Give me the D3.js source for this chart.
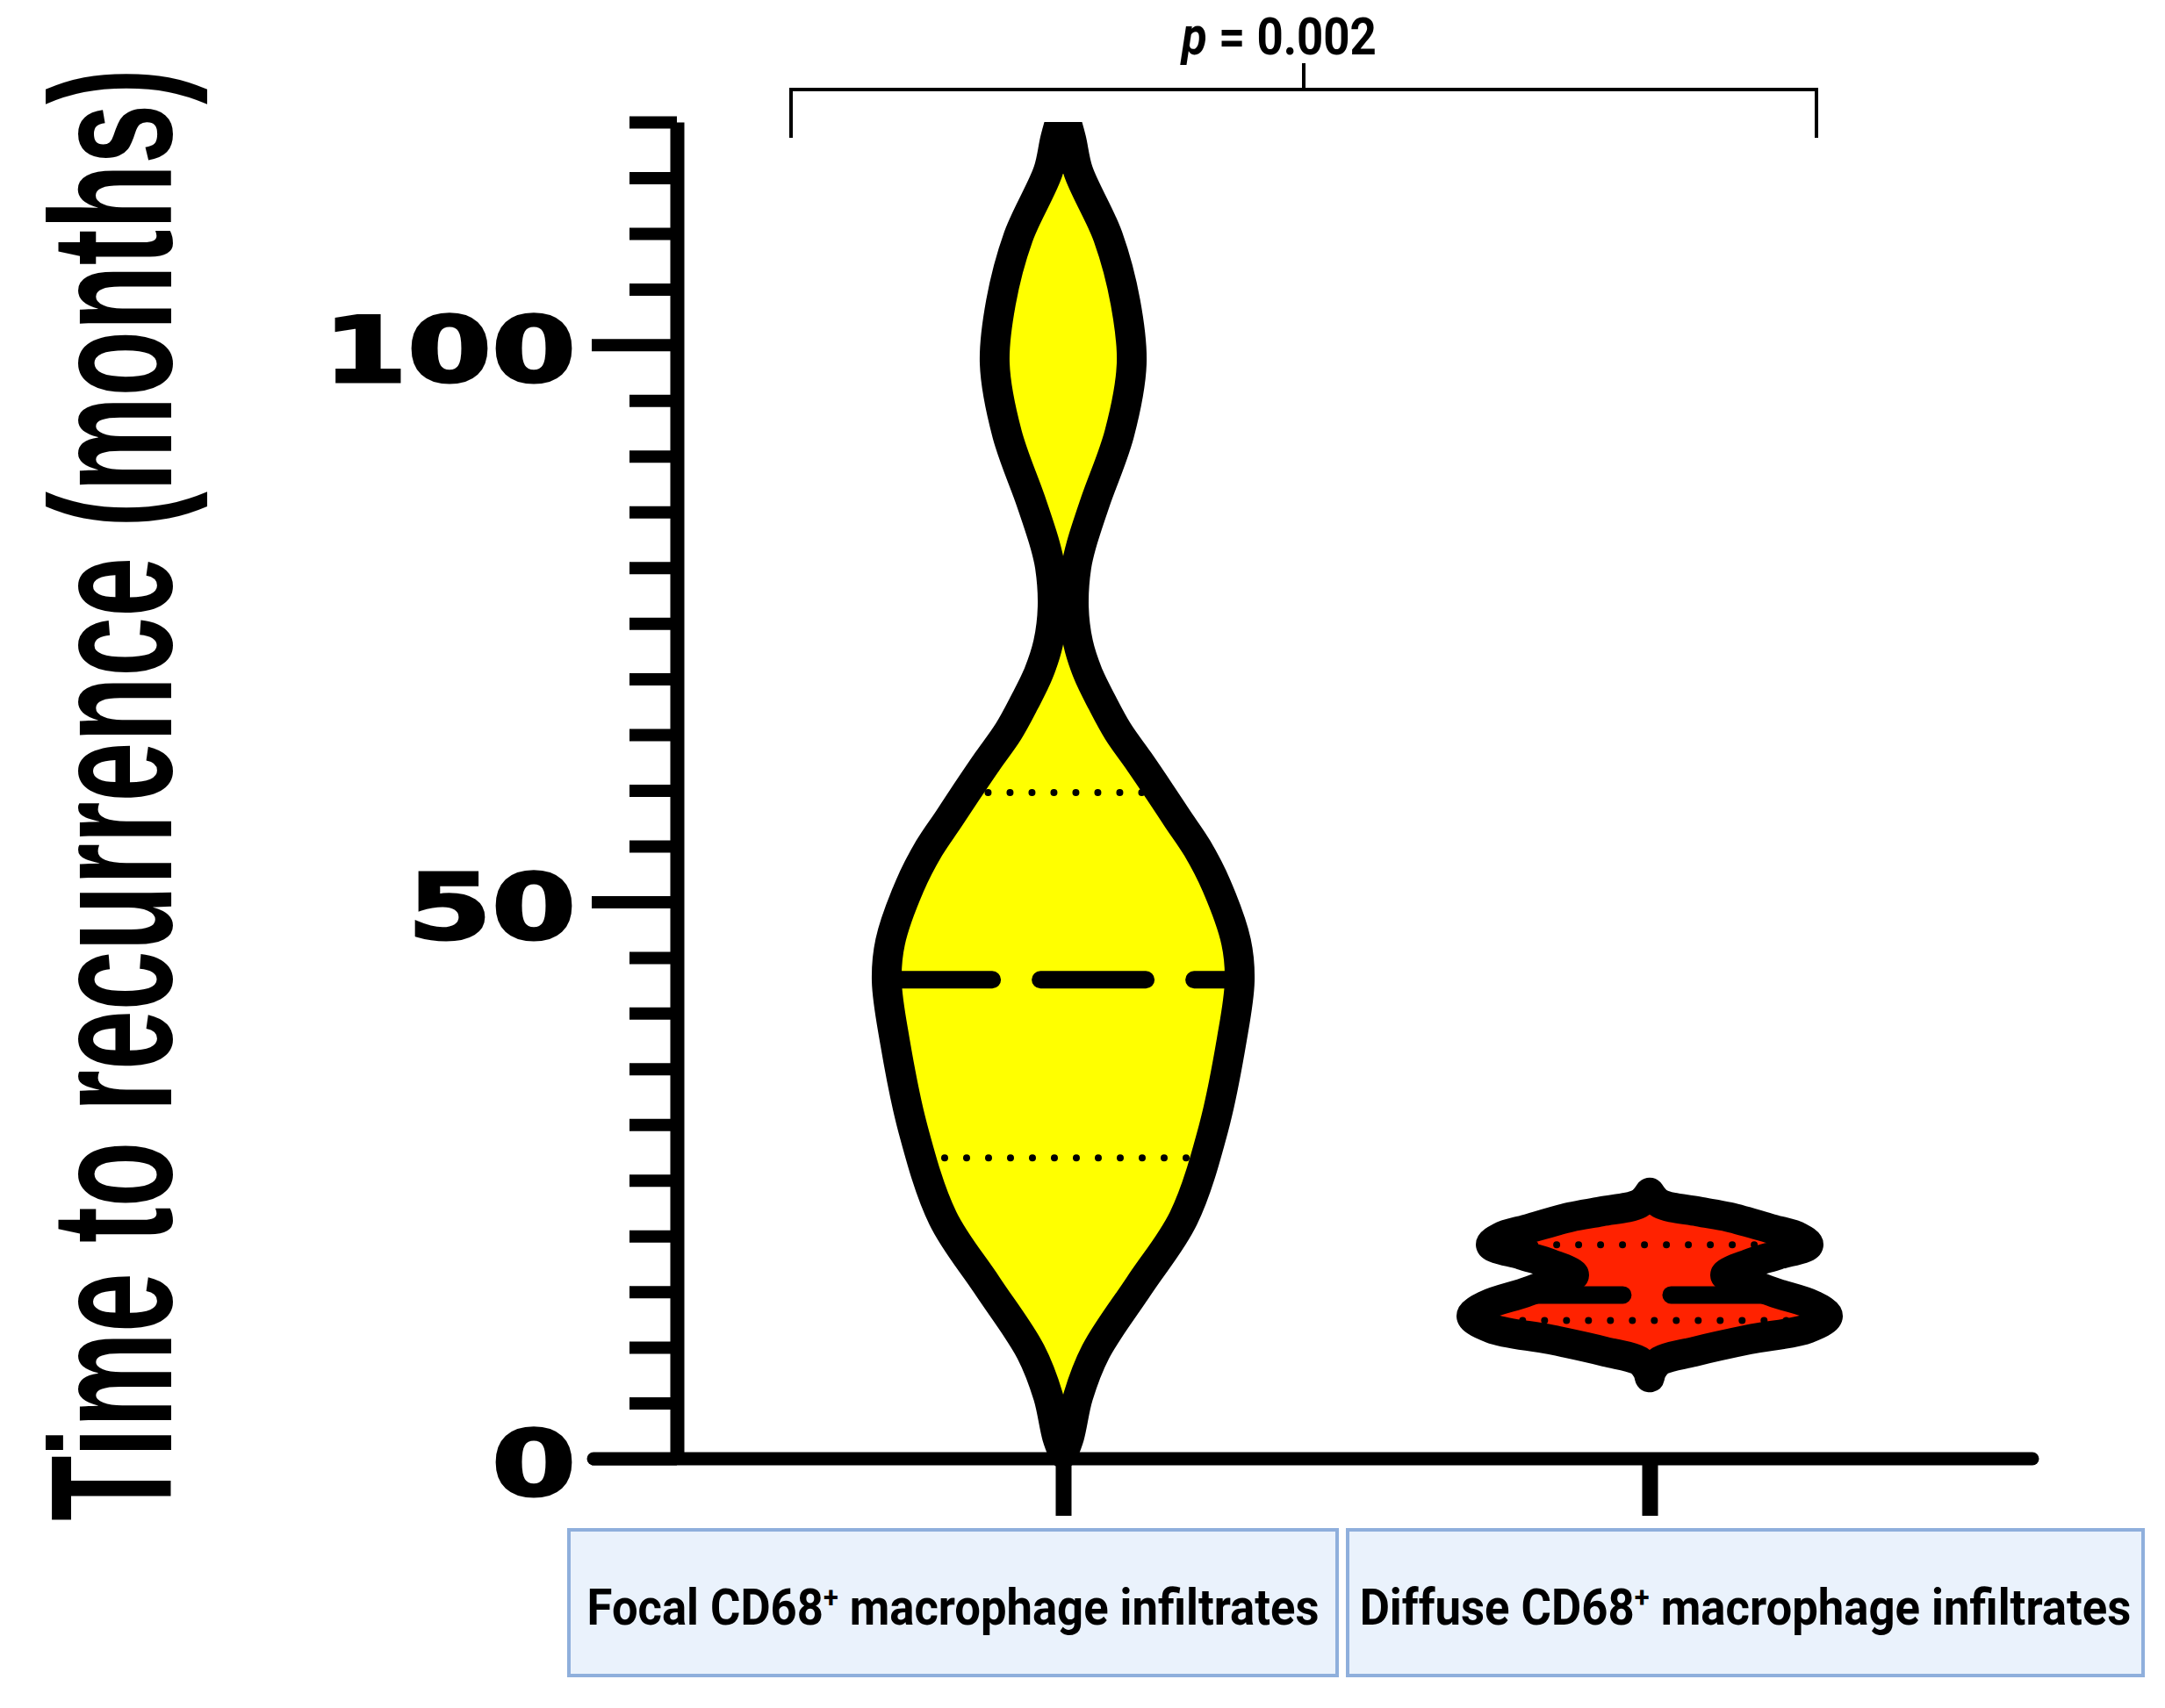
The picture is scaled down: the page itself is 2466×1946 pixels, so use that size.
<!DOCTYPE html>
<html>
<head>
<meta charset="utf-8">
<script src="https://cdn.jsdelivr.net/npm/d3@7"></script>
<style>
  body { margin: 0; background: #fff; }
  svg { display: block; }
</style>
</head>
<body>
<div id="chart"></div>
<script>
// groups and their labels
var groups = ["Focal", "Diffuse"];
var labelStart = ["Focal CD68", "Diffuse CD68"];
var labelEnd = [" macrophage infiltrates", " macrophage infiltrates"];

// violin outlines: [months, relative density]
var focalDensity = [
    [0.5, 0], [2, 3.5], [5.6, 8.5], [9.6, 18.4], [15.6, 43.3], [21.6, 68.2],
    [29.6, 85.1], [37.6, 95.5], [42.9, 100], [46.4, 98], [51.4, 87],
    [54.8, 76], [57.4, 65], [59.8, 55], [62.6, 43], [65.3, 31], [67.9, 22],
    [70.5, 14], [73.2, 8.5], [76.5, 6], [80.1, 7.5], [82.1, 10.4], [86, 18.4],
    [92, 31.8], [98.3, 38.8], [103.8, 35.3], [109.7, 25.4], [115.6, 8.5],
    [118.5, 4.5], [121, 0]
];
var diffuseDensity = [
    [7.3, 0], [8.0, 1.5], [8.8, 6], [9.6, 24.9], [10.7, 56.2], [11.7, 89.6],
    [12.8, 101], [13.8, 92.5], [14.9, 71], [15.9, 54], [16.5, 42.8],
    [17.5, 56.2], [18.3, 72.6], [19.2, 90], [19.9, 84.6], [20.6, 69.7],
    [21.7, 44.8], [22.2, 27.4], [22.9, 6], [23.9, 0]
];

// Q1, median, Q3
var focalQuartiles = [27, 43, 59.8];
var diffuseQuartiles = [12.4, 14.7, 19.2];

var yMajorTicks = [0, 50, 100];
var yMinorTicks = [5, 10, 15, 20, 25, 30, 35, 40, 45, 55, 60, 65, 70, 75, 80, 85, 90, 95, 105, 110, 115, 120];
var pValue = "0.002";

var colors = ["#ffff00", "#ff2200"];

var W = 2466, H = 1946;

var svg = d3.select("#chart")
    .append("svg")
    .attr("width", W)
    .attr("height", H);

svg.append("rect")
    .attr("width", W)
    .attr("height", H)
    .attr("fill", "#fff");

var axisX = 771;      // y axis position
var y = d3.scaleLinear().domain([0, 120]).range([1662, 139]);
var x = d3.scalePoint().domain(groups).range([1211, 1879]);
var w = d3.scaleLinear().domain([0, 100]).range([0, 201]);

svg.append("clipPath")
    .attr("id", "plotclip")
    .append("rect")
    .attr("x", 0)
    .attr("y", y(120))
    .attr("width", W)
    .attr("height", H);

function densityAt(arr, v) {
    for (var i = 1; i < arr.length; i++) {
        if (arr[i][0] >= v) {
            var t = (v - arr[i - 1][0]) / (arr[i][0] - arr[i - 1][0]);
            return arr[i - 1][1] + t * (arr[i][1] - arr[i - 1][1]);
        }
    }
    return 0;
}

// ---- axes ----
var yAxisMinor = d3.axisLeft(y)
    .tickValues(yMinorTicks)
    .tickSize(54)
    .tickSizeOuter(0)
    .tickFormat("");

var yAxisMajor = d3.axisLeft(y)
    .tickValues(yMajorTicks)
    .tickSize(97)
    .tickSizeOuter(0)
    .tickPadding(18);

var gMinor = svg.append("g")
    .attr("transform", "translate(" + axisX + ",0)")
    .call(yAxisMinor);
gMinor.select(".domain").remove();
gMinor.selectAll(".tick line").attr("stroke", "#000").attr("stroke-width", 14);

var gMajor = svg.append("g")
    .attr("transform", "translate(" + axisX + ",0)")
    .call(yAxisMajor);
gMajor.select(".domain").attr("stroke", "#000").attr("stroke-width", 16);
gMajor.selectAll(".tick line").attr("stroke", "#000").attr("stroke-width", 14);
gMajor.selectAll(".tick text")
    .attr("fill", "#000")
    .attr("stroke", "#000")
    .attr("stroke-width", 3)
    .attr("font-family", "'DejaVu Sans', sans-serif")
    .attr("font-weight", "bold")
    .attr("font-size", 104)
    .attr("dy", "0.40em")
    .attr("lengthAdjust", "spacingAndGlyphs")
    .attr("textLength", function(d) { return String(d).length * 96; });

// x axis line
svg.append("line")
    .attr("x1", axisX - 95)
    .attr("x2", x(groups[1]) + 436)
    .attr("y1", y(0))
    .attr("y2", y(0))
    .attr("stroke", "#000")
    .attr("stroke-width", 15)
    .attr("stroke-linecap", "round");

var xAxis = d3.axisBottom(x)
    .tickSize(65)
    .tickSizeOuter(0)
    .tickFormat("");

var gx = svg.append("g")
    .attr("transform", "translate(0," + y(0) + ")")
    .call(xAxis);
gx.select(".domain").remove();
gx.selectAll(".tick line").attr("stroke", "#000").attr("stroke-width", 18);

// ---- violins ----
var violins = [
    {name: groups[0], density: focalDensity, q: focalQuartiles, color: colors[0]},
    {name: groups[1], density: diffuseDensity, q: diffuseQuartiles, color: colors[1]}
];

violins.forEach(function(v) {
    var cx = x(v.name);
    var area = d3.area()
        .curve(d3.curveCatmullRom.alpha(0.5))
        .y(function(d) { return y(d[0]); })
        .x0(function(d) { return cx - w(d[1]); })
        .x1(function(d) { return cx + w(d[1]); });

    var g = svg.append("g").attr("clip-path", "url(#plotclip)");

    g.append("path")
        .datum(v.density)
        .attr("d", area)
        .attr("fill", v.color);

    // quartiles, dotted
    [v.q[0], v.q[2]].forEach(function(q) {
        var hw = w(densityAt(v.density, q));
        g.append("line")
            .attr("x1", cx - hw)
            .attr("x2", cx + hw)
            .attr("y1", y(q))
            .attr("y2", y(q))
            .attr("stroke", "#000")
            .attr("stroke-width", 8)
            .attr("stroke-linecap", "round")
            .attr("stroke-dasharray", "0,25");
    });

    // median, dashed
    var hm = w(densityAt(v.density, v.q[1]));
    g.append("line")
        .attr("x1", cx - hm)
        .attr("x2", cx + hm)
        .attr("y1", y(v.q[1]))
        .attr("y2", y(v.q[1]))
        .attr("stroke", "#000")
        .attr("stroke-width", 20)
        .attr("stroke-linecap", "round")
        .attr("stroke-dasharray", "120,55");

    g.append("path")
        .datum(v.density)
        .attr("d", area)
        .attr("fill", "none")
        .attr("stroke", "#000")
        .attr("stroke-width", 34)
        .attr("stroke-linejoin", "round");
});

// ---- y axis title ----
var title = svg.append("g")
    .append("text")
    .attr("font-family", "'Liberation Sans', Arial, sans-serif")
    .attr("font-weight", "bold")
    .attr("font-size", 197)
    .attr("fill", "#000")
    .text("Time to recurrence (months)");
var ts = 1655 / title.node().getComputedTextLength();
title.attr("transform", "translate(195,1733) rotate(-90) scale(" + ts + ",1)");

// ---- significance bracket ----
var bL = x(groups[0]) - 310,
    bR = x(groups[1]) + 190,
    bMid = (bL + bR) / 2;

svg.append("path")
    .attr("d", "M" + bL + ",157V102H" + bR + "V157M" + bMid + ",102V72")
    .attr("fill", "none")
    .attr("stroke", "#000")
    .attr("stroke-width", 4);

var ptext = svg.append("text")
    .attr("font-family", "Roboto, sans-serif")
    .attr("font-weight", "bold")
    .attr("font-size", 60)
    .attr("fill", "#000");
ptext.append("tspan").attr("font-style", "italic").text("p");
ptext.append("tspan").text(" = " + pValue);
var ps = 222 / ptext.node().getComputedTextLength();
ptext.attr("transform", "translate(1346,62) scale(" + ps + ",1)");

// ---- category label boxes ----
var boxes = [
    {x0: 648, x1: 1523},
    {x0: 1535, x1: 2441}
];
var textWidths = [834, 879];

boxes.forEach(function(b, i) {
    svg.append("rect")
        .attr("x", b.x0)
        .attr("y", 1743)
        .attr("width", b.x1 - b.x0)
        .attr("height", 166)
        .attr("fill", "#eaf2fc")
        .attr("stroke", "#8fafdc")
        .attr("stroke-width", 4);

    var t = svg.append("text")
        .attr("font-family", "Roboto, sans-serif")
        .attr("font-weight", "bold")
        .attr("font-size", 58)
        .attr("fill", "#000")
        .attr("text-anchor", "middle");
    t.append("tspan").text(labelStart[i]);
    t.append("tspan").attr("font-size", 34).attr("dy", -20).text("+");
    t.append("tspan").attr("dy", 20).text(labelEnd[i]);
    var s = textWidths[i] / t.node().getComputedTextLength();
    t.attr("transform", "translate(" + ((b.x0 + b.x1) / 2) + ",1851) scale(" + s + ",1)");
});
</script>
</body>
</html>
